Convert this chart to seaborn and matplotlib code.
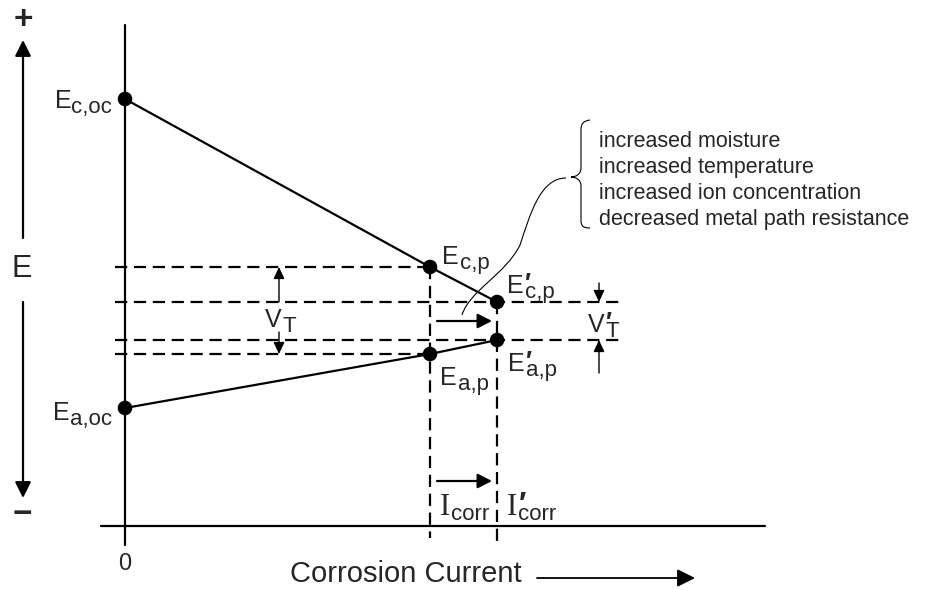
import numpy as np
import pandas as pd
import matplotlib.pyplot as plt
import seaborn as sns
from matplotlib.path import Path
from matplotlib.patches import PathPatch

# -------------------
# Data
# -------------------
current = [0.0, 5.0, 6.1]          # 0, I_corr, I'_corr
e_cathode = [8.54, 5.18, 4.48]     # E_c,oc, E_c,p, E'_c,p
e_anode = [2.36, 3.44, 3.72]       # E_a,oc, E_a,p, E'_a,p
cathode_subs = ["c,oc", "c,p", "c,p"]
anode_subs = ["a,oc", "a,p", "a,p"]
conditions = ["increased moisture",
              "increased temperature",
              "increased ion concentration",
              "decreased metal path resistance"]

# sketch frame: pixel where the two axes cross, pixels per unit
W, H = 934, 590
X0, Y0, SX, SY = 125, 526, 61, 50


def px(x, y):
    # pixel position on the sketch -> data coords
    return ((x - X0) / SX, (Y0 - y) / SY)


sns.set_style("white")
plt.rcParams['font.family'] = ['Liberation Sans', 'DejaVu Sans']

fig = plt.figure(figsize=(W / 100, H / 100), dpi=100)
ax = fig.add_axes([0, 0, 1, 1])
ax.set_xlim(-X0 / SX, (W - X0) / SX)
ax.set_ylim(-(H - Y0) / SY, Y0 / SY)
ax.set_axis_off()

LW = 1.6
dash = (0, (5.5, 3))

# axes lines
ax.plot([0, 0], [px(0, 545)[1], px(0, 25)[1]], color='k', lw=LW)
ax.plot([px(101, 0)[0], px(765, 0)[0]], [0, 0], color='k', lw=LW)

# polarization lines + points
df = pd.DataFrame({"I": current * 2,
                   "E": e_cathode + e_anode,
                   "side": ["cathode"] * 3 + ["anode"] * 3})
sns.lineplot(data=df, x="I", y="E", units="side", estimator=None, sort=False,
             color='k', lw=LW, ax=ax)
sns.scatterplot(data=df, x="I", y="E", color='k', s=110, edgecolor='none',
                zorder=5, ax=ax)

# dashed guides
gl, gr = px(115, 0)[0], px(620, 0)[0]
for e in [e_cathode[1], e_anode[1]]:
    ax.plot([gl, current[1]], [e, e], color='k', lw=LW, ls=dash)
for e in [e_cathode[2], e_anode[2]]:
    ax.plot([gl, gr], [e, e], color='k', lw=LW, ls=dash)
ax.plot([current[1]] * 2, [e_cathode[1], px(0, 538)[1]], color='k', lw=LW, ls=dash)
ax.plot([current[2]] * 2, [e_cathode[2], px(0, 543)[1]], color='k', lw=LW, ls=dash)


def sub_label(xy, sub, dx, dy, main="E", prime=False, right=False,
              size=18, subsize=16, drop=5, mfamily=None):
    kw = dict(textcoords='offset pixels')
    if right:
        s = ax.annotate(sub, xy, xytext=(dx, dy - drop), ha='right',
                        va='baseline', fontsize=subsize, **kw)
        m = ax.annotate(main, (0, 0), xycoords=s, xytext=(0, drop), ha='right',
                        va='bottom', fontsize=size, family=mfamily, **kw)
    else:
        m = ax.annotate(main, xy, xytext=(dx, dy), ha='left', va='baseline',
                        fontsize=size, family=mfamily, **kw)
        ax.annotate(sub, (1, 0), xycoords=m, xytext=(1, -drop), ha='left',
                    va='bottom', fontsize=subsize, **kw)
    if prime:
        ax.annotate("\u2032", (1, 1), xycoords=m, xytext=(1, 2), ha='left',
                    va='top', fontsize=size, fontweight='bold', **kw)


sub_label((current[0], e_cathode[0]), cathode_subs[0], -13, -9, right=True)
sub_label((current[0], e_anode[0]), anode_subs[0], -13, -12, right=True)
sub_label((current[1], e_cathode[1]), cathode_subs[1], 12, 3)
sub_label((current[2], e_cathode[2]), cathode_subs[2], 10, 9, prime=True)
sub_label((current[1], e_anode[1]), anode_subs[1], 10, -31)
sub_label((current[2], e_anode[2]), anode_subs[2], 11, -31, prime=True)

# V_T and V'_T
sub_label(px(265, 327), "T", 0, 0, main="V")
sub_label(px(588, 332), "T", 0, 0, main="V", prime=True)

# I_corr and I'_corr
sub_label(px(440, 515), "corr", 0, 0, main="I", size=22, drop=3,
          mfamily='Liberation Serif')
sub_label(px(507, 515), "corr", 0, 0, main="I", size=22, drop=3,
          mfamily='Liberation Serif', prime=True)


def arrow(tail, tip, lw=1.0, hl=0.47, hw=0.22, ms=15):
    ax.annotate('', xy=tip, xytext=tail,
                arrowprops=dict(arrowstyle=f'-|>,head_length={hl},head_width={hw}',
                                color='k', lw=lw, mutation_scale=ms,
                                shrinkA=0, shrinkB=0))


# V_T arrows
xv = px(279, 0)[0]
arrow((xv, e_cathode[2]), (xv, e_cathode[1]))
arrow((xv, px(0, 332)[1]), (xv, e_anode[1]))
# V'_T arrows
xv2 = px(599, 0)[0]
arrow((xv2, px(0, 283)[1]), (xv2, e_cathode[2]))
arrow((xv2, px(0, 373)[1]), (xv2, e_anode[2]))

# shift arrows
arrow(px(437, 321), px(492, 321), lw=LW, hl=0.43, hw=0.22, ms=20)
arrow(px(437, 481), px(492, 481), lw=LW, hl=0.43, hw=0.22, ms=20)

# E axis with +/- arrows
arrow(px(23, 238), px(23, 40), lw=LW, hl=0.48, hw=0.24, ms=20)
arrow(px(23, 302), px(23, 498), lw=LW, hl=0.48, hw=0.24, ms=20)
ax.text(*px(23, 21), "+", ha='center', va='center', fontsize=24, fontweight='bold')
ax.text(*px(22, 514), "\u2212", ha='center', va='center', fontsize=24, fontweight='bold')
ax.text(*px(22, 269), "E", ha='center', va='center', fontsize=22)

# x axis text
ax.text(*px(125, 564), "0", ha='center', va='center', fontsize=17)
ax.text(*px(290, 582), "Corrosion Current", ha='left', va='baseline', fontsize=21)
arrow(px(537, 578), px(695, 578), lw=1.3, hl=0.6, hw=0.3, ms=18)

# list of conditions
for i, c in enumerate(conditions):
    ax.text(*px(599, 147 + 26 * i), c, ha='left', va='baseline', fontsize=15.5)

# brace
bx = [(590, 120), (583, 121), (581, 124), (581, 130), (581, 168),
      (581, 174), (576, 177), (571, 177), (576, 177), (581, 180), (581, 186),
      (581, 220), (581, 226), (583, 228), (590, 228)]
codes = [Path.MOVETO, Path.CURVE4, Path.CURVE4, Path.CURVE4, Path.LINETO,
         Path.CURVE4, Path.CURVE4, Path.CURVE4, Path.CURVE4, Path.CURVE4, Path.CURVE4,
         Path.LINETO, Path.CURVE4, Path.CURVE4, Path.CURVE4]
ax.add_patch(PathPatch(Path([px(*p) for p in bx], codes), fill=False, lw=0.8, color='k'))

# wavy lead from brace down to the shift arrow
cv = [(462, 315), (470, 290), (505, 275), (520, 245), (530, 215), (540, 178), (566, 178)]
ccodes = [Path.MOVETO] + [Path.CURVE4] * 6
ax.add_patch(PathPatch(Path([px(*p) for p in cv], ccodes), fill=False, lw=0.8, color='k'))

plt.savefig("out.png", dpi=100)
